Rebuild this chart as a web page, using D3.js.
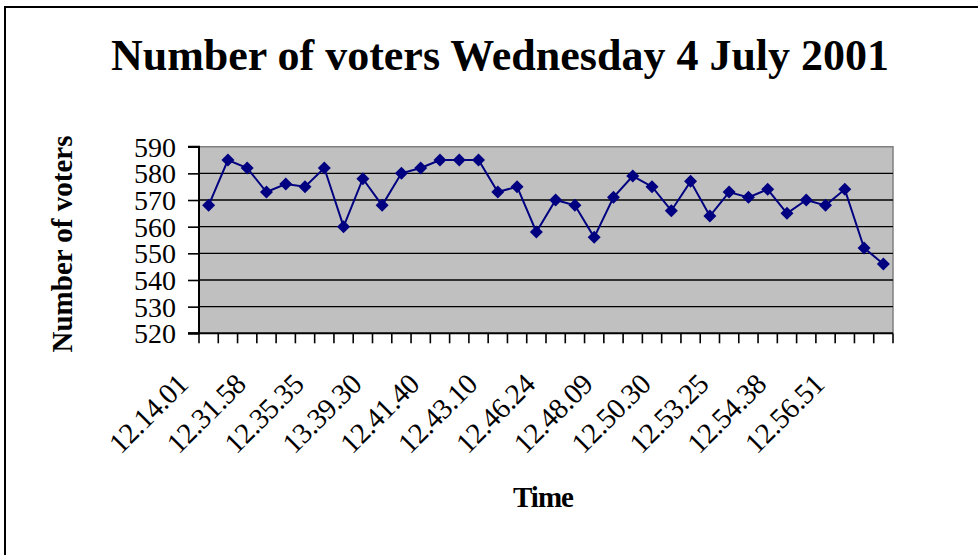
<!DOCTYPE html>
<html>
<head>
<meta charset="utf-8">
<script src="https://cdn.jsdelivr.net/npm/d3@7"></script>
<style>
  html, body { margin: 0; padding: 0; background: #fff; }
  svg { display: block; }
  text { font-family: "Liberation Serif", "Times New Roman", serif; fill: #000; }
</style>
</head>
<body>
<svg id="chart" width="978" height="555"></svg>
<script>
// Voter counts sampled through the session
const voters = [568, 585, 582, 573, 576, 575, 582, 560, 578, 568, 580, 582,
                585, 585, 585, 573, 575, 558, 570, 568, 556, 571, 579, 575,
                566, 577, 564, 573, 571, 574, 565, 570, 568, 574, 552, 546];
// Time labels shown on every third category
const timeLabels = ["12.14.01", "12.31.58", "12.35.35", "13.39.30", "12.41.40", "12.43.10",
                    "12.46.24", "12.48.09", "12.50.30", "12.53.25", "12.54.38", "12.56.51"];
const labelStep = 3;
const yTicks = [520, 530, 540, 550, 560, 570, 580, 590];

const svg = d3.select("#chart");
const plot = { left: 199, right: 893, top: 146.7, bottom: 333.3 };

// outer chart frame
svg.append("rect").attr("x", 5).attr("y", 7).attr("width", 1000).attr("height", 600)
  .attr("fill", "#fff").attr("stroke", "#000").attr("stroke-width", 2);

const x = d3.scaleBand().domain(d3.range(voters.length))
  .range([plot.left, plot.right]).paddingInner(0).paddingOuter(0);
const y = d3.scaleLinear().domain([520, 590]).range([plot.bottom, plot.top]);

// plot background
svg.append("rect").attr("x", plot.left).attr("y", plot.top)
  .attr("width", plot.right - plot.left).attr("height", plot.bottom - plot.top)
  .attr("fill", "#c0c0c0");
// grey top/right border of plot area
svg.append("path")
  .attr("d", `M${plot.left},${plot.top}H${plot.right}V${plot.bottom}`)
  .attr("fill", "none").attr("stroke", "#808080").attr("stroke-width", 1.5);

// horizontal gridlines
svg.append("g").selectAll("line").data(yTicks.filter(v => v > 520 && v < 590)).join("line")
  .attr("x1", plot.left).attr("x2", plot.right)
  .attr("y1", d => y(d)).attr("y2", d => y(d))
  .attr("stroke", "#000").attr("stroke-width", 1.4);

// y axis
const yAxis = d3.axisLeft(y).tickValues(yTicks).tickSize(11).tickPadding(12).tickFormat(d3.format("d"));
const gy = svg.append("g").attr("transform", `translate(${plot.left},0)`).call(yAxis);
gy.attr("font-family", null).attr("font-size", null);
gy.select(".domain").attr("stroke", "#000").attr("stroke-width", 2).attr("d", `M-11,${plot.top}H0V${plot.bottom}H-11`);
gy.selectAll(".tick line").attr("stroke", "#000").attr("stroke-width", 1.6);
gy.selectAll(".tick text").attr("font-size", 28).attr("dy", "0.34em");

// x axis: ticks at category boundaries
const boundaries = d3.range(voters.length + 1).map(i => plot.left + i * x.step());
svg.append("g").selectAll("line").data(boundaries).join("line")
  .attr("x1", d => d).attr("x2", d => d)
  .attr("y1", plot.bottom).attr("y2", plot.bottom + 10)
  .attr("stroke", "#000").attr("stroke-width", 1.6);
svg.append("line").attr("x1", plot.left - 11).attr("x2", plot.right)
  .attr("y1", plot.bottom).attr("y2", plot.bottom)
  .attr("stroke", "#000").attr("stroke-width", 2);

// rotated time labels
svg.append("g").selectAll("text").data(timeLabels).join("text")
  .attr("transform", (d, i) => {
    const cx = x(i * labelStep) + x.bandwidth() / 2 - 19;
    return `translate(${cx},386) rotate(-45)`;
  })
  .attr("text-anchor", "end")
  .attr("font-size", 29)
  .attr("letter-spacing", "-0.5")
  .text(d => d);

// series line
const line = d3.line().x((d, i) => x(i) + x.bandwidth() / 2).y(d => y(d));
svg.append("path").datum(voters).attr("d", line)
  .attr("fill", "none").attr("stroke", "#000080").attr("stroke-width", 2);

// diamond markers
const r = 6.5;
svg.append("g").selectAll("path").data(voters).join("path")
  .attr("d", (d, i) => {
    const cx = x(i) + x.bandwidth() / 2, cy = y(d);
    return `M${cx},${cy - r}L${cx + r},${cy}L${cx},${cy + r}L${cx - r},${cy}Z`;
  })
  .attr("fill", "#000080");

// titles
svg.append("text").attr("x", 500).attr("y", 70).attr("text-anchor", "middle")
  .attr("font-size", 44).attr("font-weight", "bold")
  .text("Number of voters Wednesday 4 July 2001");
svg.append("text").attr("transform", "translate(72,244) rotate(-90)")
  .attr("text-anchor", "middle").attr("font-size", 29).attr("font-weight", "bold")
  .text("Number of voters");
svg.append("text").attr("x", 543).attr("y", 507).attr("text-anchor", "middle")
  .attr("font-size", 29).attr("font-weight", "bold").attr("letter-spacing", "-1")
  .text("Time");
</script>
</body>
</html>
